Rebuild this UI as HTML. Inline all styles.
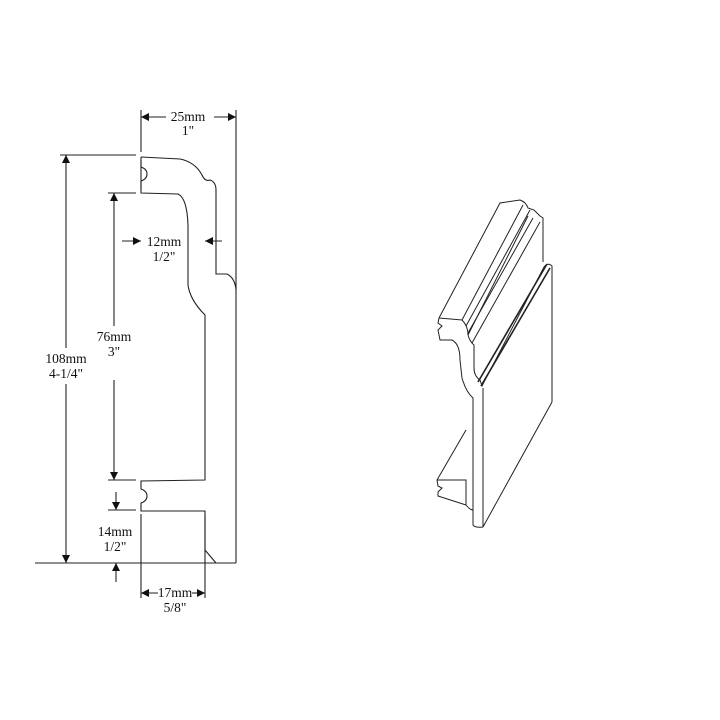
<!DOCTYPE html>
<html><head><style>
body{margin:0;background:#fff}
svg{display:block}
text{font-family:"Liberation Serif",serif;font-size:13.5px;fill:#111}
</style></head><body>
<svg width="720" height="720" viewBox="0 0 720 720">
<defs>
<marker id="a" viewBox="0 0 10 10" refX="10" refY="5" markerWidth="12" markerHeight="8" markerUnits="userSpaceOnUse" orient="auto"><path d="M0,0 L10,5 L0,10z" fill="#111"/></marker>
</defs>
<g fill="none" stroke="#222" stroke-width="1.1">
<line x1="141" y1="110" x2="141" y2="152"/>
<line x1="141" y1="190" x2="141" y2="160"/>
<line x1="141" y1="514" x2="141" y2="598"/>
<line x1="236" y1="110" x2="236" y2="563"/>
<line x1="205" y1="515" x2="205" y2="598"/>
<line x1="60" y1="155" x2="136" y2="155"/>
<line x1="108" y1="193" x2="136" y2="193"/>
<line x1="108" y1="480" x2="136" y2="480"/>
<line x1="108" y1="510" x2="136" y2="510"/>
<line x1="35" y1="563" x2="236" y2="563"/>
<path d="M141,157 L180,159 Q195,162 202,175 Q205,182 210,180 Q216,182 216,190 L216,274 L227,274 Q235,278 236,290"/>
<path d="M141,157 L141,167 Q147,169 147,174 Q147,179 141,181 L141,193 L178,194 Q187,198 188,225 L188,285 Q190,300 205,315 L205,480 L141,481 L141,489 Q147,491 147,496 Q147,501 141,503 L141,511 L205,511 L205,550 L216,563"/>
<line x1="66" y1="360" x2="66" y2="155" marker-end="url(#a)"/>
<line x1="66" y1="370" x2="66" y2="563" marker-end="url(#a)"/>
<line x1="114" y1="330" x2="114" y2="193" marker-end="url(#a)"/>
<line x1="114" y1="380" x2="114" y2="480" marker-end="url(#a)"/>
<line x1="116" y1="492" x2="116" y2="510" marker-end="url(#a)"/>
<line x1="116" y1="582" x2="116" y2="563" marker-end="url(#a)"/>
<line x1="122" y1="241" x2="141" y2="241" marker-end="url(#a)"/>
<line x1="222" y1="241" x2="205" y2="241" marker-end="url(#a)"/>
<line x1="166" y1="117" x2="141" y2="117" marker-end="url(#a)"/>
<line x1="214" y1="117" x2="236" y2="117" marker-end="url(#a)"/>
<line x1="158" y1="593" x2="141" y2="593" marker-end="url(#a)"/>
<line x1="192" y1="593" x2="205" y2="593" marker-end="url(#a)"/>
</g>
<g stroke="#fff" stroke-width="18"><line x1="66" y1="348" x2="66" y2="384"/><line x1="114" y1="326" x2="114" y2="362"/></g>
<text x="188" y="121" text-anchor="middle">25mm</text><text x="188" y="135" text-anchor="middle">1"</text>
<text x="164" y="246" text-anchor="middle">12mm</text><text x="164" y="261" text-anchor="middle">1/2"</text>
<text x="66" y="363" text-anchor="middle">108mm</text><text x="66" y="378" text-anchor="middle">4-1/4"</text>
<text x="114" y="341" text-anchor="middle">76mm</text><text x="114" y="356" text-anchor="middle">3"</text>
<text x="115" y="536" text-anchor="middle">14mm</text><text x="115" y="551" text-anchor="middle">1/2"</text>
<text x="175" y="597" text-anchor="middle">17mm</text><text x="175" y="612" text-anchor="middle">5/8"</text>
<g fill="none" stroke="#222" stroke-width="1">
<path d="M439,318 L500,203 L520,200 Q526,202 528,208 L534,210 L540,216 L543,218 L543,262"/>
<path d="M439,318 L462,320 L523,205"/>
<path d="M462,320 Q468,326 468,335 L528,216"/>
<path d="M466,326 L530,210 M468,333 L533,218"/>
<path d="M472,343 L540,222"/>
<path d="M468,335 Q470,342 474,345 L474,368 Q474,376 480,380 L482,386 L544,267 Q548,262 552,266 L552,402"/>
<path d="M478,382 L547,264 M481,386 L550,268" stroke-width="1.6"/>
<path d="M483,388 L483,527 L552,402"/>
<path d="M439,318 L438,323 L442,326 L438,330 L440,340 L452,340 Q460,344 460,360 L462,378 Q466,392 473,398 L473,525 Q475,528 483,527"/>
<path d="M437,480 L466,480 L466,505 Q470,510 473,510"/>
<path d="M437,480 L438,486 L442,488 L438,492 L438,496 L466,505"/>
<path d="M437,480 L466,430"/>
</g>
</svg>
</body></html>
